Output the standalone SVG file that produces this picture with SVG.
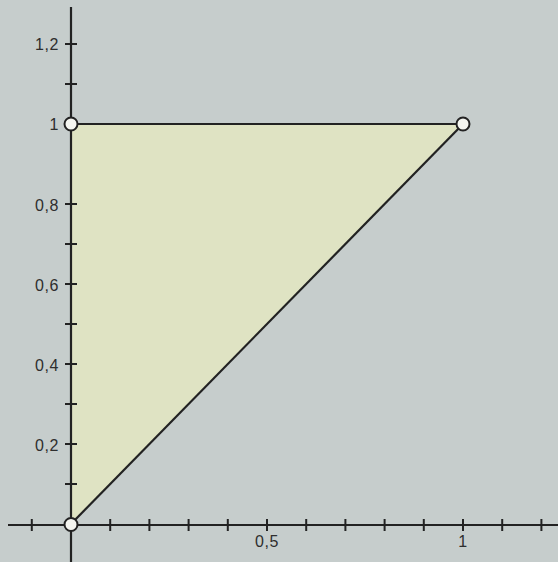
<svg xmlns="http://www.w3.org/2000/svg" width="558" height="562" viewBox="0 0 558 562">
<style>
.ax{stroke:#222;stroke-width:2.2;fill:none}
.tk{stroke:#222;stroke-width:2}
.lbl{font-family:"Liberation Sans",Arial,sans-serif;font-size:16px;letter-spacing:0.6px;fill:#2e2e2e}
.pt{fill:#f4f5f0;stroke:#222;stroke-width:2}
</style>
<rect width="558" height="562" fill="#c6cdcc"/>
<g id="triangle">
<polygon points="71,524 71,124 463,124" fill="#dfe3c3" stroke="none"/>
</g>
<g id="axes">
<line class="ax" x1="71" y1="7" x2="71" y2="562"/>
<line class="ax" x1="8" y1="525" x2="558" y2="525"/>
<g id="yticks">
<line class="tk" x1="65" y1="44" x2="77" y2="44"/>
<line class="tk" x1="65" y1="84" x2="77" y2="84"/>
<line class="tk" x1="65" y1="204" x2="77" y2="204"/>
<line class="tk" x1="65" y1="244" x2="77" y2="244"/>
<line class="tk" x1="65" y1="284" x2="77" y2="284"/>
<line class="tk" x1="65" y1="324" x2="77" y2="324"/>
<line class="tk" x1="65" y1="364" x2="77" y2="364"/>
<line class="tk" x1="65" y1="404" x2="77" y2="404"/>
<line class="tk" x1="65" y1="444" x2="77" y2="444"/>
<line class="tk" x1="65" y1="484" x2="77" y2="484"/>
</g>
<g id="xticks">
<line class="tk" x1="31.8" y1="519" x2="31.8" y2="531"/>
<line class="tk" x1="110.2" y1="519" x2="110.2" y2="531"/>
<line class="tk" x1="149.4" y1="519" x2="149.4" y2="531"/>
<line class="tk" x1="188.6" y1="519" x2="188.6" y2="531"/>
<line class="tk" x1="227.8" y1="519" x2="227.8" y2="531"/>
<line class="tk" x1="267" y1="519" x2="267" y2="531"/>
<line class="tk" x1="306.2" y1="519" x2="306.2" y2="531"/>
<line class="tk" x1="345.4" y1="519" x2="345.4" y2="531"/>
<line class="tk" x1="384.6" y1="519" x2="384.6" y2="531"/>
<line class="tk" x1="423.8" y1="519" x2="423.8" y2="531"/>
<line class="tk" x1="463" y1="519" x2="463" y2="531"/>
<line class="tk" x1="502.2" y1="519" x2="502.2" y2="531"/>
<line class="tk" x1="541.4" y1="519" x2="541.4" y2="531"/>
</g>
</g>
<g id="labels">
<text class="lbl" x="59" y="50" text-anchor="end">1,2</text>
<text class="lbl" x="59" y="130" text-anchor="end">1</text>
<text class="lbl" x="59" y="211" text-anchor="end">0,8</text>
<text class="lbl" x="59" y="291" text-anchor="end">0,6</text>
<text class="lbl" x="59" y="371" text-anchor="end">0,4</text>
<text class="lbl" x="59" y="451" text-anchor="end">0,2</text>
<text class="lbl" x="267" y="547" text-anchor="middle">0,5</text>
<text class="lbl" x="463" y="547" text-anchor="middle">1</text>
</g>
<g id="connectors">
<line class="ax" x1="71" y1="124" x2="463" y2="124"/>
<line class="ax" x1="71" y1="524" x2="463" y2="124"/>
</g>
<g id="node-origin"><circle class="pt" cx="71" cy="524.5" r="6.5"/></g>
<g id="node-y1"><circle class="pt" cx="71" cy="124" r="6.5"/></g>
<g id="node-11"><circle class="pt" cx="463" cy="124" r="6.5"/></g>
</svg>
